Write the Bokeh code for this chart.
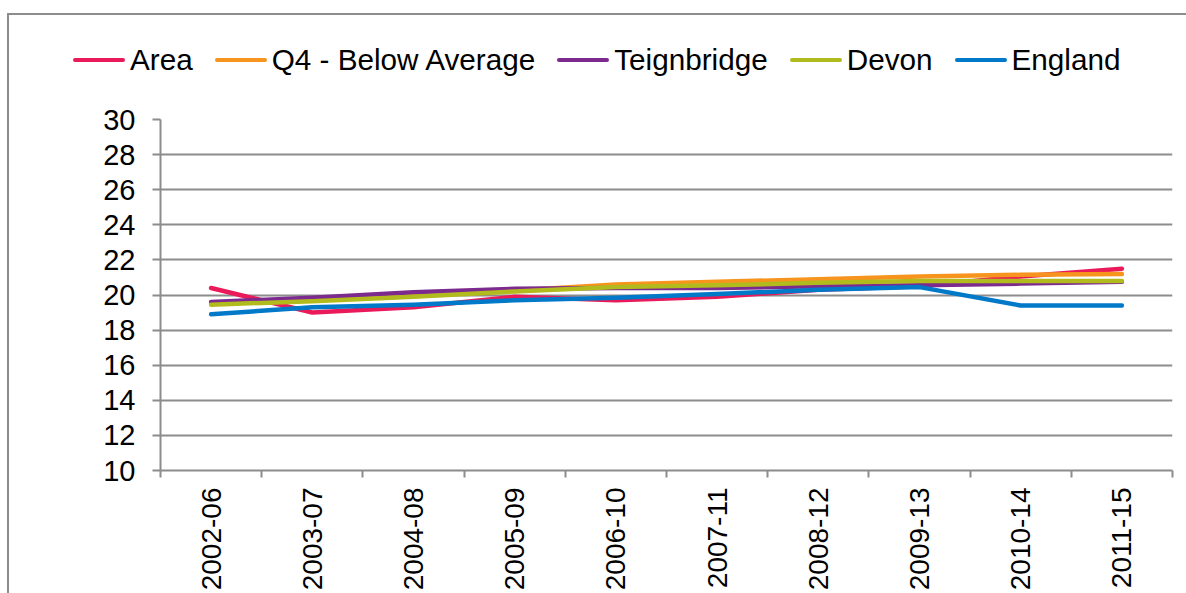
from bokeh.plotting import figure
from bokeh.layouts import column
from bokeh.models import FixedTicker, Range1d, Div
from bokeh.embed import file_html
from bokeh.resources import INLINE

periods = ["2002-06", "2003-07", "2004-08", "2005-09", "2006-10",
           "2007-11", "2008-12", "2009-13", "2010-14", "2011-15"]
area = [20.4, 19.0, 19.3, 19.9, 19.7, 19.9, 20.3, 20.5, 21.05, 21.5]
q4_below_average = [19.5, 19.7, 19.95, 20.25, 20.6, 20.75, 20.9, 21.05, 21.15, 21.2]
teignbridge = [19.6, 19.85, 20.15, 20.35, 20.4, 20.4, 20.5, 20.55, 20.65, 20.75]
devon = [19.45, 19.65, 19.9, 20.2, 20.45, 20.55, 20.7, 20.8, 20.8, 20.8]
england = [18.9, 19.3, 19.45, 19.7, 19.85, 20.05, 20.3, 20.45, 19.4, 19.4]
y_ticks = [10, 12, 14, 16, 18, 20, 22, 24, 26, 28, 30]

series = [
    ("Area", area, "#EA1A5A"),
    ("Q4 - Below Average", q4_below_average, "#F7941E"),
    ("Teignbridge", teignbridge, "#7D2A8E"),
    ("Devon", devon, "#B2BB1E"),
    ("England", england, "#0079C9"),
]

FONT = "Liberation Sans"
GREY = "#8C8C8C"

n = len(periods)
xs = [i + 0.5 for i in range(n)]

# ---- legend (HTML strip above the chart) ----
entries = []
for name, _, col in series:
    entries.append(
        f'<span style="display:inline-flex;align-items:center;margin-right:22px;">'
        f'<span style="display:inline-block;width:52px;height:4px;border-radius:2px;'
        f'background:{col};"></span>'
        f'<span style="margin-left:5px;">{name}</span></span>')
legend_html = (
    f'<div style="position:absolute;left:64px;top:27px;display:flex;'
    f'align-items:center;white-space:nowrap;font-family:\'{FONT}\';'
    f'font-size:29.7px;line-height:36px;color:black;">' + "".join(entries) + '</div>')
legend_div = Div(text=legend_html, width=1177, height=76, margin=0,
                 styles={"position": "relative"})

# ---- main chart ----
p = figure(width=1177, height=502, output_backend="svg", toolbar_location=None,
           x_range=Range1d(0, n), y_range=Range1d(10, 30),
           min_border_left=151, min_border_right=14, min_border_top=28,
           min_border_bottom=123, margin=0)
p.outline_line_color = None
p.background_fill_color = "white"
p.border_fill_color = "white"

p.xaxis.ticker = FixedTicker(ticks=xs, minor_ticks=list(range(n + 1)))
p.xaxis.major_label_overrides = {x: lab for x, lab in zip(xs, periods)}
p.xaxis.major_label_orientation = 1.5707963
p.xaxis.major_tick_out = 0
p.xaxis.major_tick_in = 0
p.xaxis.minor_tick_out = 7
p.xaxis.minor_tick_in = 0
p.xaxis.minor_tick_line_color = GREY
p.xaxis.minor_tick_line_width = 2
p.xaxis.major_label_standoff = 10
p.xaxis.major_label_text_font = FONT
p.xaxis.major_label_text_font_size = "28px"
p.xaxis.major_label_text_color = "black"
p.xaxis.axis_line_color = GREY
p.xaxis.axis_line_width = 2

p.yaxis.ticker = FixedTicker(ticks=y_ticks)
p.yaxis.minor_tick_line_color = None
p.yaxis.major_tick_out = 8
p.yaxis.major_tick_in = 0
p.yaxis.major_tick_line_color = GREY
p.yaxis.major_tick_line_width = 2
p.yaxis.axis_line_color = GREY
p.yaxis.axis_line_width = 2
p.yaxis.major_label_standoff = 17
p.yaxis.major_label_text_font = FONT
p.yaxis.major_label_text_font_size = "29px"
p.yaxis.major_label_text_color = "black"

p.xgrid.grid_line_color = None
p.ygrid.ticker = FixedTicker(ticks=y_ticks)
p.ygrid.grid_line_color = GREY
p.ygrid.grid_line_width = 2

for name, vals, col in series:
    p.line(xs, vals, line_color=col, line_width=4.5, line_cap="round",
           line_join="round")

layout = column(legend_div, p, spacing=0,
                styles={"border-left": f"2px solid {GREY}",
                        "border-top": f"2px solid {GREY}",
                        "margin-left": "7px", "margin-top": "13px"})
open("out.html", "w").write(file_html(layout, INLINE))
